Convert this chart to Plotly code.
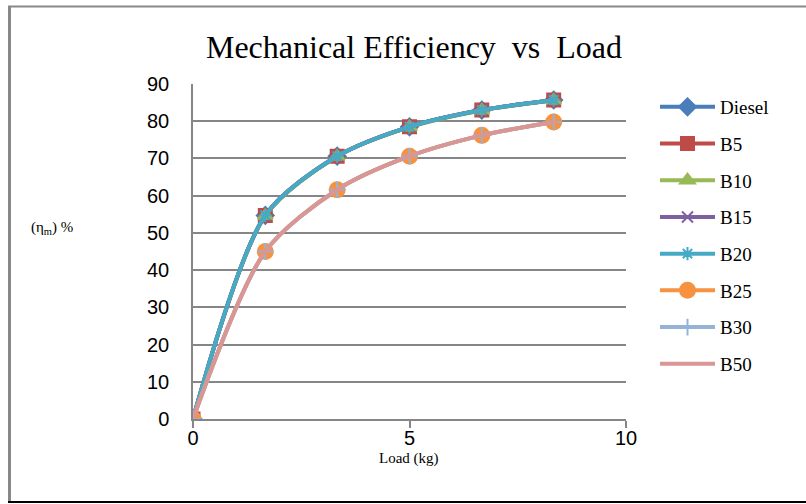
import plotly.graph_objects as go

load = [0, 1.67, 3.33, 5.0, 6.67, 8.33]
diesel = [0, 54.7, 70.6, 78.5, 83.0, 85.7]
b5 = [0, 54.7, 70.6, 78.5, 83.0, 85.7]
b10 = [0, 54.6, 70.5, 78.4, 82.9, 85.6]
b15 = [0, 54.7, 70.6, 78.5, 83.0, 85.7]
b20 = [0, 54.7, 70.6, 78.5, 83.0, 85.7]
b25 = [0, 45.0, 61.6, 70.6, 76.2, 79.8]
b30 = [0, 45.0, 61.6, 70.6, 76.2, 79.8]
b50 = [0, 45.0, 61.6, 70.6, 76.2, 79.8]

series = [
    ("Diesel", diesel, "#4A7EBB", "diamond", 13),
    ("B5", b5, "#BE4B48", "square", 13),
    ("B10", b10, "#98B954", "triangle-up", 13),
    ("B15", b15, "#7D60A0", "x-thin", 11),
    ("B20", b20, "#46AAC5", "asterisk", 11),
    ("B25", b25, "#F69240", "circle", 15),
    ("B30", b30, "#95B3D7", "cross-thin", 12),
    ("B50", b50, "#D99694", "line-ew", 6),
]

fig = go.Figure()
for name, vals, color, sym, sz in series:
    fig.add_trace(go.Scatter(
        x=load, y=vals, name=name, legendgroup=name, mode="lines+markers",
        line=dict(color=color, width=4, shape="spline", smoothing=0.8),
        marker=dict(symbol=sym, size=sz, color=color,
                    line=dict(color=color, width=2)),
    ))

W, H = 806, 504
L, R, T, B = 193, 626, 84, 419
def px(x):
    return (x - L) / (R - L)
def py(y):
    return (B - y) / (B - T)

shapes = [
    dict(type="line", xref="paper", yref="paper", x0=px(9.5), x1=px(9.5), y0=py(6), y1=py(502),
         line=dict(color="#888888", width=3)),
    dict(type="line", xref="paper", yref="paper", x0=px(8), x1=px(806), y0=py(6.5), y1=py(6.5),
         line=dict(color="#888888", width=2)),
    dict(type="line", xref="paper", yref="paper", x0=px(8), x1=px(806), y0=py(502), y1=py(502),
         line=dict(color="#000000", width=2)),
]

fig.update_layout(
    width=W, height=H,
    margin=dict(l=L, r=W - R, t=T, b=H - B),
    paper_bgcolor="white", plot_bgcolor="white",
    title=dict(text="Mechanical Efficiency  vs  Load", x=414 / W, xanchor="center",
               y=1 - 47 / H, yanchor="middle",
               font=dict(family="Liberation Serif", size=32, color="black")),
    xaxis=dict(range=[0, 10], tickvals=[0, 5, 10], showgrid=False, zeroline=False,
               showline=True, linecolor="#868686", linewidth=1.5,
               ticks="outside", ticklen=7, tickcolor="#868686", tickwidth=1.5,
               ticklabelstandoff=-7,
               tickfont=dict(family="Liberation Sans", size=20, color="black")),
    yaxis=dict(range=[0, 90], dtick=10, showgrid=True, gridcolor="#868686", gridwidth=1.5,
               zeroline=False, showline=True, linecolor="#868686", linewidth=1.5,
               ticks="", tickfont=dict(family="Liberation Sans", size=20, color="black"),
               ticklabelstandoff=18),
    legend=dict(x=px(655), y=py(88), xanchor="left", yanchor="top",
                font=dict(family="Liberation Serif", size=19, color="black"),
                tracegroupgap=9, itemwidth=55, bgcolor="rgba(0,0,0,0)"),
    shapes=shapes,
    annotations=[
        dict(text="(η<sub>m</sub>) %", xref="paper", yref="paper",
             x=px(52), y=py(228), xanchor="center", yanchor="middle", showarrow=False,
             font=dict(family="Liberation Serif", size=15, color="black")),
        dict(text="Load (kg)", xref="paper", yref="paper",
             x=px(409), y=py(458), xanchor="center", yanchor="middle", showarrow=False,
             font=dict(family="Liberation Serif", size=15, color="black")),
    ],
)

fig.write_html("out.html", config={"displayModeBar": False},
               post_script="document.body.style.margin='0px';document.body.style.overflow='hidden';")
